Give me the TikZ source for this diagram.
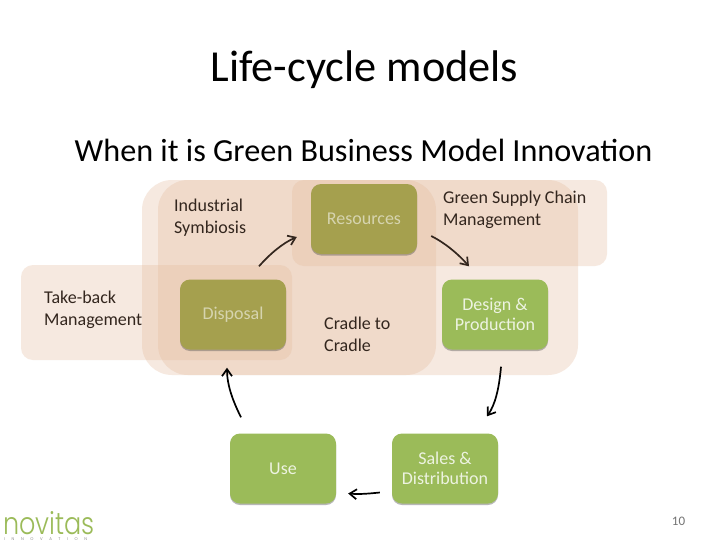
\documentclass[tikz,border=0pt]{standalone}
\usepackage{fontspec}
\setmainfont{Carlito}
\newfontfamily\logofont{Poppins Light}
\newfontfamily\logosubfont[WordSpace=6]{Poppins Light}
\usetikzlibrary{arrows.meta,shadows,calc}
\definecolor{peach}{HTML}{E3B99A}
\definecolor{leaf}{HTML}{9BBB59}
\definecolor{olive}{HTML}{A5A04E}
\definecolor{inkbrown}{HTML}{33261E}
\tikzset{
  x=1pt,y=-1pt,
  region/.style={draw=none,fill=peach,fill opacity=.3,inner sep=0pt,outer sep=0pt},
  greenbox/.style={draw=none,fill=leaf,rounded corners=10pt,minimum width=106pt,minimum height=70pt,inner sep=0pt,
    text=leaf!18!white,font=\fontsize{18}{20}\selectfont,align=center,
    drop shadow={shadow xshift=0pt,shadow yshift=-1.5pt,opacity=.4,fill=black!70}},
  olivebox/.style={greenbox,fill=olive,text=olive!45!white},
  label/.style={anchor=north west,inner sep=0pt,align=left,text=inkbrown,font=\fontsize{18}{22}\selectfont},
  flow/.style={-{Straight Barb[length=7pt,width=10pt]},line width=1.7pt,inkbrown},
}
\begin{document}
\begin{tikzpicture}
\useasboundingbox (0,0) rectangle (728,546);
\fill[white] (0,0) rectangle (728,546);
% overlapping regions
\node[region,rounded corners=30pt,minimum width=436pt,minimum height=195pt] (ccwide) at (360,277.5) {};
\node[region,rounded corners=30pt,minimum width=278pt,minimum height=195pt] (cc) at (297,277.5) {};
\node[region,rounded corners=12pt,minimum width=271pt,minimum height=95pt] (takeback) at (156.5,312.5) {};
\node[region,rounded corners=12pt,minimum width=315pt,minimum height=86pt] (gscm) at (449.5,223) {};
% process boxes
\node[olivebox] (resources) at (364,219) {Resources};
\node[olivebox] (disposal) at (233,314.5) {Disposal};
\node[greenbox] (design) at (495,314.5) {Design \&\\Production};
\node[greenbox] (use) at (283,468.5) {Use};
\node[greenbox] (sales) at (445,468.5) {Sales \&\\Distribution};
% titles
\node[font=\fontsize{44.3}{50}\selectfont,text=black] (title) at (364.5,70) {Life-cycle models};
\node[font=\fontsize{32.2}{38}\selectfont,text=black] (subtitle) at (363.5,150.5) {When it is Green Business Model Innovation};
% region labels
\node[label] (lbl-is) at (174,199) {Industrial\\Symbiosis};
\node[label] (lbl-gscm) at (443,190.5) {Green Supply Chain\\Management};
\node[label] (lbl-tb) at (44,290.7) {Take-back\\Management};
\node[label] (lbl-cc) at (324,317.2) {Cradle to\\Cradle};
% connectors
\draw[flow] ([xshift=26pt,yshift=13pt]disposal.north) .. controls ([xshift=-41pt,yshift=-35pt]resources.west) and ([xshift=-28pt,yshift=-24pt]resources.west) .. ([xshift=-14pt,yshift=-18pt]resources.west);
\draw[flow] ([xshift=14pt,yshift=-17pt]resources.east) .. controls ([xshift=28pt,yshift=-24pt]resources.east) and ([xshift=41pt,yshift=-35pt]resources.east) .. ([xshift=-26pt,yshift=13pt]design.north);
\draw[flow,black] ([xshift=6pt,yshift=-17pt]design.south) .. controls ([xshift=4pt,yshift=-40pt]design.south) and ([xshift=0pt,yshift=-55pt]design.south) .. ([xshift=42pt,yshift=17pt]sales.north);
\draw[flow,black] ([xshift=-12pt,yshift=-24pt]sales.west) .. controls ([xshift=-22pt,yshift=-25pt]sales.west) and ([xshift=-32pt,yshift=-26pt]sales.west) .. ([xshift=12pt,yshift=-25pt]use.east);
\draw[flow,black] ([xshift=-42pt,yshift=16pt]use.north) .. controls ([xshift=-50pt,yshift=32pt]use.north) and ([xshift=-56pt,yshift=48pt]use.north) .. ([xshift=-6pt,yshift=-18pt]disposal.south);
% footer
\node[font=\fontsize{13}{15}\selectfont,text=black!55] (page) at (678.5,521) {10};
\node[anchor=west,inner sep=0pt,font=\logofont\fontsize{25.5}{28}\selectfont,text=leaf] (logo) at (3,523) {\scalebox{1}[1.2]{novitas}};
\node[anchor=west,inner sep=0pt,font=\logosubfont\fontsize{4}{5}\selectfont,text=black!55] (logosub) at (4,539.5) {I N N O V A T I O N};
\end{tikzpicture}
\end{document}
